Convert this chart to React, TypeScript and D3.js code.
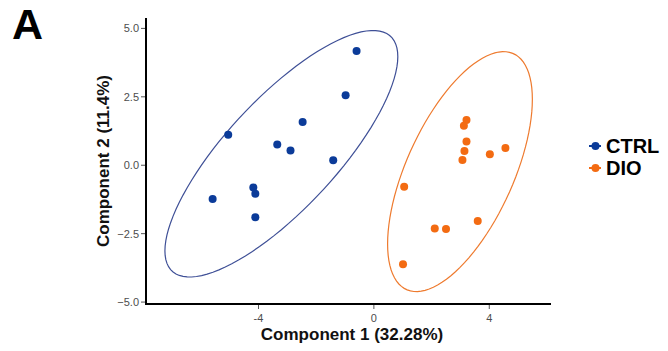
import React from "react";
import * as d3 from "d3";

const groups = ["CTRL", "DIO"];
const colors = ["#0b3b99", "#f36b12"];
const ellipseColors = ["#3e4f96", "#ee7a2e"];

const ctrlX = [-0.60, -0.98, -2.47, -5.05, -3.35, -2.89, -1.41, -5.59, -4.18, -4.11, -4.11];
const ctrlY = [4.17, 2.56, 1.58, 1.11, 0.76, 0.54, 0.18, -1.23, -0.81, -1.04, -1.90];
const dioX = [3.21, 3.12, 3.21, 3.14, 3.07, 4.02, 4.56, 1.05, 2.11, 2.50, 3.60, 1.01];
const dioY = [1.65, 1.44, 0.87, 0.52, 0.19, 0.40, 0.63, -0.79, -2.31, -2.33, -2.04, -3.62];

const xTicks = [-4, 0, 4];
const yTicks = [-5, -2.5, 0, 2.5, 5];

// F(0.95, 2, df) quantiles
const qf95: Record<number, number> = { 10: 4.102821, 11: 3.982298 };

function covTrob(xs: number[], ys: number[]) {
  const n = xs.length;
  const nu = 5, p = 2;
  let w = new Array(n).fill(1);
  let mx = d3.mean(xs)!, my = d3.mean(ys)!;
  let sxx = 0, sxy = 0, syy = 0;
  for (let it = 0; it < 200; it++) {
    const w0 = w.slice();
    const sw = d3.sum(w);
    const dx = xs.map((x) => x - mx);
    const dy = ys.map((y) => y - my);
    sxx = 0; sxy = 0; syy = 0;
    for (let i = 0; i < n; i++) {
      sxx += (w[i] * dx[i] * dx[i]) / sw;
      sxy += (w[i] * dx[i] * dy[i]) / sw;
      syy += (w[i] * dy[i] * dy[i]) / sw;
    }
    const det = sxx * syy - sxy * sxy;
    const Q = dx.map((a, i) => (syy * a * a - 2 * sxy * a * dy[i] + sxx * dy[i] * dy[i]) / det);
    w = Q.map((q) => (nu + p) / (nu + q));
    const sw2 = d3.sum(w);
    mx = d3.sum(xs.map((x, i) => w[i] * x)) / sw2;
    my = d3.sum(ys.map((y, i) => w[i] * y)) / sw2;
    sxx = 0; sxy = 0; syy = 0;
    for (let i = 0; i < n; i++) {
      sxx += (w[i] * dx[i] * dx[i]) / n;
      sxy += (w[i] * dx[i] * dy[i]) / n;
      syy += (w[i] * dy[i] * dy[i]) / n;
    }
    if (w.every((v, i) => Math.abs(v - w0[i]) < 1e-4)) break;
  }
  return { mx, my, sxx, sxy, syy };
}

function ellipsePoints(xs: number[], ys: number[]) {
  const n = xs.length;
  const { mx, my, sxx, sxy, syy } = covTrob(xs, ys);
  const r = Math.sqrt(2 * qf95[n - 1]);
  const r11 = Math.sqrt(sxx);
  const r12 = sxy / r11;
  const r22 = Math.sqrt(syy - r12 * r12);
  const pts: [number, number][] = [];
  for (let k = 0; k <= 100; k++) {
    const t = (k / 100) * 2 * Math.PI;
    const ux = Math.cos(t) * r, uy = Math.sin(t) * r;
    pts.push([mx + ux * r11, my + ux * r12 + uy * r22]);
  }
  return pts;
}

export default function App() {
  const W = 668, H = 351;
  const x = d3.scaleLinear().domain([-7.9, 6.14]).range([146, 551]);
  const y = d3.scaleLinear().domain([-5.07, 5.38]).range([304, 18]);
  const fmt = d3.format(".1f");
  const data = [
    { xs: ctrlX, ys: ctrlY },
    { xs: dioX, ys: dioY },
  ];
  const line = d3.line<[number, number]>().x((d) => x(d[0])).y((d) => y(d[1])).curve(d3.curveLinearClosed);
  const font = "Arial, 'Liberation Sans', Helvetica, sans-serif";
  return (
    <svg width={W} height={H} style={{ position: "absolute", left: 0, top: 0, background: "#fff" }} fontFamily={font}>
      <text x={12} y={39} fontSize={43} fontWeight="bold" fill="#000">A</text>
      {data.map((g, gi) => (
        <path key={"e" + gi} d={line(ellipsePoints(g.xs, g.ys))!} fill="none" stroke={ellipseColors[gi]} strokeWidth={1.2} />
      ))}
      {data.map((g, gi) =>
        g.xs.map((v, i) => (
          <circle key={gi + "-" + i} cx={x(v)} cy={y(g.ys[i])} r={4} fill={colors[gi]} />
        ))
      )}
      <line x1={146} x2={146} y1={18} y2={305} stroke="#000" strokeWidth={2} />
      <line x1={145} x2={551} y1={304} y2={304} stroke="#000" strokeWidth={2} />
      {yTicks.map((t) => (
        <g key={"y" + t}>
          <line x1={141} x2={145} y1={y(t)} y2={y(t)} stroke="#555" strokeWidth={1} />
          <text x={139} y={y(t)} dy="0.35em" textAnchor="end" fontSize={11} fill="#4d4d4d">{fmt(t)}</text>
        </g>
      ))}
      {xTicks.map((t) => (
        <g key={"x" + t}>
          <line x1={x(t)} x2={x(t)} y1={305} y2={309} stroke="#555" strokeWidth={1} />
          <text x={x(t)} y={318} dy="0.35em" textAnchor="middle" fontSize={11} fill="#4d4d4d">{t}</text>
        </g>
      ))}
      <text x={352} y={340} textAnchor="middle" fontSize={17} fontWeight="bold" fill="#111">Component 1 (32.28%)</text>
      <text transform={`translate(109,161) rotate(-90)`} textAnchor="middle" fontSize={17} fontWeight="bold" fill="#111">Component 2 (11.4%)</text>
      {groups.map((g, i) => (
        <g key={g} transform={`translate(0,${146 + i * 22})`}>
          <line x1={589} x2={601} y1={0} y2={0} stroke={colors[i]} strokeWidth={2} />
          <circle cx={595.5} cy={0} r={4} fill={colors[i]} />
          <text x={606} y={0} dy="0.36em" fontSize={20} fontWeight="bold" fill="#000">{g}</text>
        </g>
      ))}
    </svg>
  );
}
